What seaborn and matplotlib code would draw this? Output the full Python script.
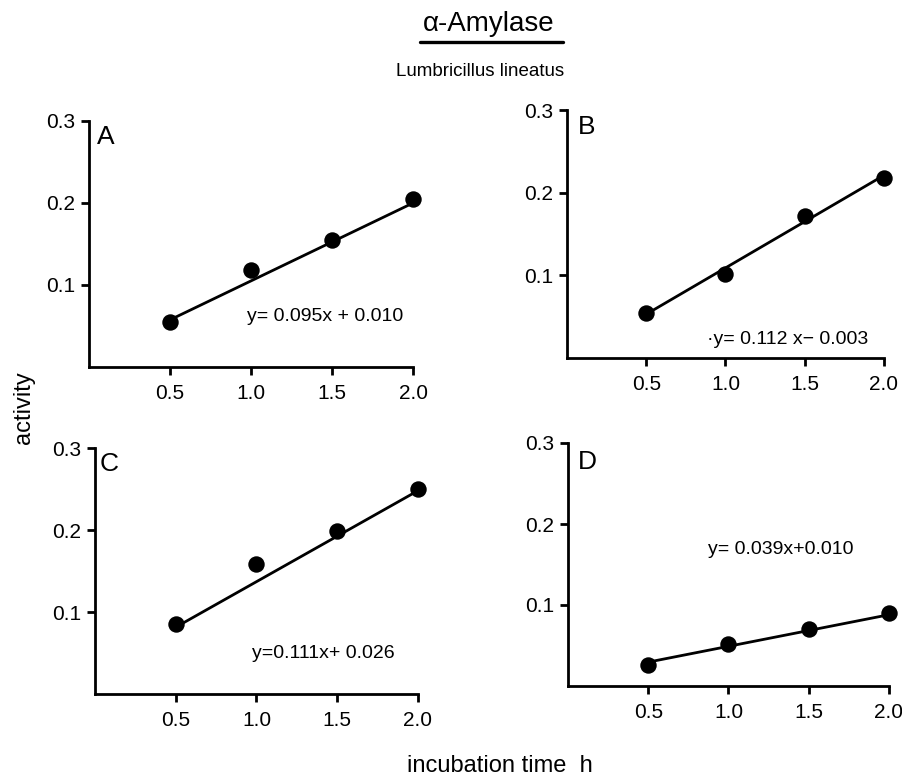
import matplotlib
matplotlib.use("Agg")
import matplotlib.pyplot as plt
from matplotlib.lines import Line2D
import seaborn as sns
import pandas as pd

sns.set_style("ticks")
plt.rcParams['font.family'] = ['Liberation Sans', 'DejaVu Sans']

# ---- data ----
time_h = [0.5, 1.0, 1.5, 2.0]
act_A = [0.055, 0.118, 0.155, 0.205]
act_B = [0.055, 0.102, 0.172, 0.218]
act_C = [0.085, 0.158, 0.199, 0.250]
act_D = [0.026, 0.052, 0.070, 0.090]

panel_letters = ["A", "B", "C", "D"]
slopes = [0.095, 0.112, 0.111, 0.039]
intercepts = [0.010, -0.003, 0.026, 0.010]
equations = ["y= 0.095x + 0.010", "\u00b7y= 0.112 x\u2212 0.003",
             "y=0.111x+ 0.026", "y= 0.039x+0.010"]
x_ticks = [0.5, 1.0, 1.5, 2.0]
x_ticklabels = ["0.5", "1.0", "1.5", "2.0"]
y_ticks = [0.1, 0.2, 0.3]
y_ticklabels = ["0.1", "0.2", "0.3"]

title = "\u03b1-Amylase"
subtitle = "Lumbricillus lineatus"
ylabel = "activity"
xlabel = "incubation time  h"

# ---- layout ----
W, H = 903, 778
fig = plt.figure(figsize=(W / 100, H / 100), dpi=100)

def px_axes(x0, x1, y_bottom, y_top):
    return fig.add_axes([x0 / W, (H - y_bottom) / H, (x1 - x0) / W, (y_bottom - y_top) / H])

axes = [
    px_axes(89, 413, 367, 121),
    px_axes(567, 884, 358, 110),
    px_axes(95, 418, 694, 448),
    px_axes(568, 889, 686, 443),
]
series = [act_A, act_B, act_C, act_D]
letter_pos = [(0.05, 0.28), (0.07, 0.279), (0.03, 0.28), (0.06, 0.277)]
eq_pos = [(0.975, 0.061), (0.886, 0.022), (0.97, 0.05), (0.87, 0.169)]

for ax, acts, letter, lp, eq, ep, m, b in zip(axes, series, panel_letters, letter_pos,
                                              equations, eq_pos, slopes, intercepts):
    df = pd.DataFrame({"t": time_h, "a": acts})
    fit = pd.DataFrame({"t": [time_h[0], time_h[-1]],
                        "a": [m * time_h[0] + b, m * time_h[-1] + b]})
    sns.lineplot(data=fit, x="t", y="a", ax=ax, color="black", linewidth=2.0)
    sns.scatterplot(data=df, x="t", y="a", ax=ax, color="black", s=140,
                    edgecolor="black", linewidth=0, zorder=5)
    for c in ax.collections:
        c.set_clip_on(False)
    for l in ax.lines:
        l.set_clip_on(False)
    ax.set_xlim(0, 2.0)
    ax.set_ylim(0, 0.3)
    ax.set_xticks(x_ticks)
    ax.set_xticklabels(x_ticklabels)
    ax.set_yticks(y_ticks)
    ax.set_yticklabels(y_ticklabels)
    ax.set_xlabel("")
    ax.set_ylabel("")
    for s in ["top", "right"]:
        ax.spines[s].set_visible(False)
    for s in ["left", "bottom"]:
        ax.spines[s].set_linewidth(2.0)
        ax.spines[s].set_color("black")
    ax.tick_params(axis="x", direction="out", length=6, width=2.0, pad=6,
                   labelsize=15, colors="black")
    ax.tick_params(axis="y", direction="out", length=6, width=2.0, pad=4,
                   labelsize=15, colors="black")
    ax.patch.set_alpha(0)
    ax.text(lp[0], lp[1], letter, fontsize=19, va="center", ha="left", color="black")
    ax.text(ep[0], ep[1], eq, fontsize=14, va="center", ha="left", color="black")

# titles and labels
fig.text(489 / W, (H - 24) / H, title, fontsize=20, ha="center", va="center", color="black")
fig.add_artist(Line2D([420 / W, 563 / W], [(H - 42) / H, (H - 42) / H],
                      transform=fig.transFigure, color="black", linewidth=2.4))
fig.text(480 / W, (H - 71) / H, subtitle, fontsize=13.5, ha="center", va="center", color="black")
fig.text(24 / W, (H - 408) / H, ylabel, fontsize=17, rotation=90, ha="center", va="center",
         color="black")
fig.text(500 / W, (H - 766) / H, xlabel, fontsize=17, ha="center", va="center", color="black")

fig.savefig("out.png", dpi=100, facecolor="white")
